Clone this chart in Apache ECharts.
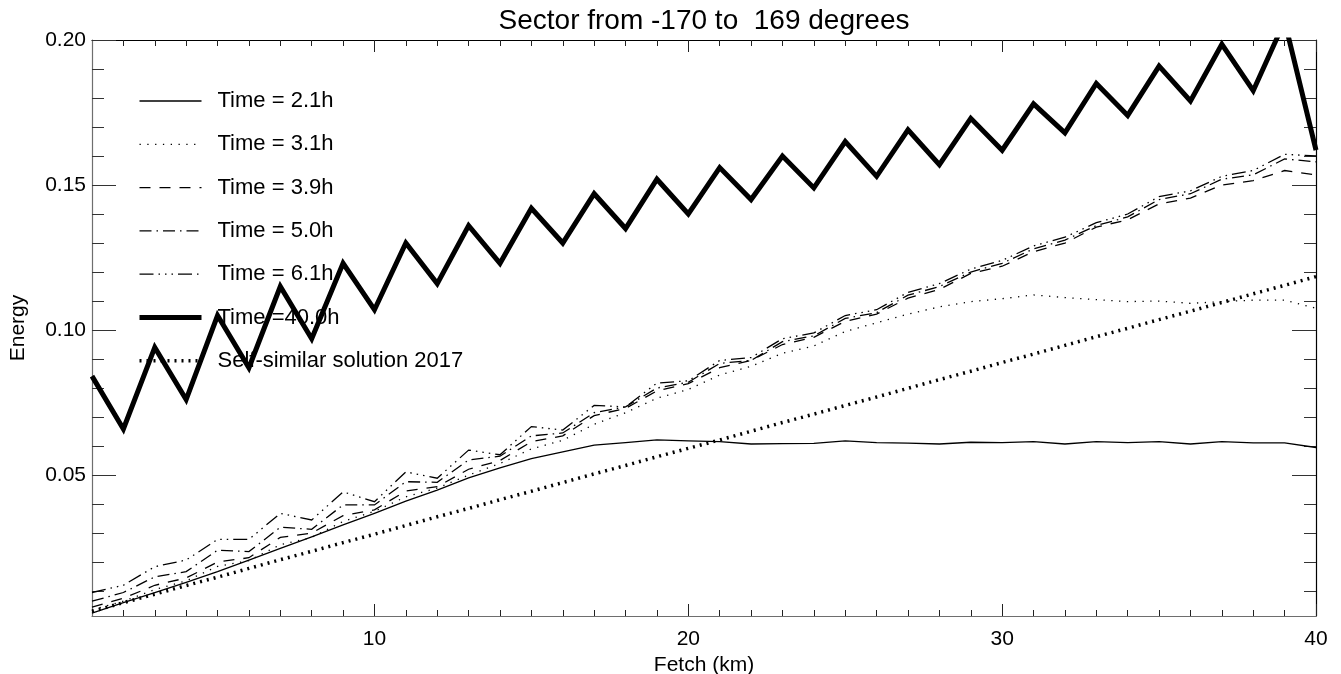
<!DOCTYPE html>
<html>
<head>
<meta charset="utf-8">
<script src="https://cdn.jsdelivr.net/npm/echarts@6/dist/echarts.min.js"></script>
<style>
html,body{margin:0;padding:0;background:#fff;}
#chart{width:1341px;height:674px;}
</style>
</head>
<body>
<div id="chart"></div>
<script>
// ---- data ----
const fetchKm = [1,2,3,4,5,6,7,8,9,10,11,12,13,14,15,16,17,18,19,20,21,22,23,24,25,26,27,28,29,30,31,32,33,34,35,36,37,38,39,40];

const time21 = [0.0024,0.0060,0.0095,0.0130,0.0167,0.0207,0.0247,0.0287,0.0328,0.0368,
                0.0410,0.0448,0.0490,0.0525,0.0557,0.0580,0.0603,0.0612,0.0621,0.0618,
                0.0615,0.0607,0.0608,0.0609,0.0618,0.0612,0.0610,0.0607,0.0613,0.0612,
                0.0615,0.0607,0.0615,0.0612,0.0615,0.0607,0.0615,0.0611,0.0611,0.0595];

const time31 = [0.0035,0.0065,0.0105,0.0135,0.0185,0.0205,0.0260,0.0285,0.0340,0.0375,
                0.0425,0.0455,0.0500,0.0540,0.0590,0.0620,0.0675,0.0715,0.0765,0.0795,
                0.0845,0.0875,0.0920,0.0945,0.0995,0.1025,0.1055,0.1080,0.1098,0.1108,
                0.1121,0.1112,0.1105,0.1098,0.1100,0.1092,0.1098,0.1103,0.1103,0.1075];

const time39 = [0.0045,0.0075,0.0120,0.0145,0.0200,0.0215,0.0285,0.0300,0.0360,0.0380,
                0.0445,0.0460,0.0520,0.0550,0.0615,0.0635,0.0705,0.0730,0.0790,0.0815,
                0.0870,0.0895,0.0950,0.0975,0.1030,0.1055,0.1110,0.1140,0.1195,0.1220,
                0.1270,0.1300,0.1355,0.1380,0.1435,0.1455,0.1500,0.1515,0.1550,0.1535];

const time50 = [0.0065,0.0095,0.0149,0.0167,0.0241,0.0236,0.0320,0.0313,0.0397,0.0397,
                0.0477,0.0475,0.0552,0.0565,0.0635,0.0645,0.0715,0.0735,0.0800,0.0820,
                0.0885,0.0895,0.0960,0.0980,0.1040,0.1060,0.1120,0.1150,0.1200,0.1230,
                0.1280,0.1310,0.1360,0.1390,0.1450,0.1470,0.1520,0.1535,0.1590,0.1580];

const time61 = [0.0095,0.0120,0.0184,0.0207,0.0278,0.0278,0.0368,0.0345,0.0442,0.0408,
                0.0511,0.0489,0.0586,0.0570,0.0667,0.0655,0.0740,0.0735,0.0817,0.0825,
                0.0895,0.0905,0.0970,0.0990,0.1050,0.1070,0.1130,0.1160,0.1210,0.1240,
                0.1290,0.1320,0.1370,0.1400,0.1460,0.1480,0.1530,0.1550,0.1606,0.1600];

const time400 = [0.0841,0.0659,0.0940,0.0760,0.1050,0.0870,0.1150,0.0970,0.1230,0.1070,
                 0.1300,0.1160,0.1360,0.1230,0.1420,0.1300,0.1470,0.1350,0.1520,0.1400,
                 0.1560,0.1450,0.1600,0.1490,0.1650,0.1530,0.1690,0.1570,0.1730,0.1620,
                 0.1780,0.1680,0.1850,0.1740,0.1910,0.1790,0.1985,0.1825,0.2065,0.1620];

const selfSimilar = [0.0030,0.0060,0.0089,0.0119,0.0148,0.0178,0.0208,0.0237,0.0267,0.0296,
                     0.0326,0.0356,0.0385,0.0415,0.0444,0.0474,0.0504,0.0533,0.0563,0.0592,
                     0.0621,0.0651,0.0681,0.0710,0.0740,0.0769,0.0799,0.0829,0.0858,0.0888,
                     0.0917,0.0947,0.0977,0.1006,0.1036,0.1065,0.1095,0.1125,0.1154,0.1184];

const seriesNames = ['Time = 2.1h','Time = 3.1h','Time = 3.9h','Time = 5.0h','Time = 6.1h','Time =40.0h','Self-similar solution 2017'];

const xMajorTicks = [10,20,30,40];
const xMinorTicks = [2,3,4,5,6,7,8,9,11,12,13,14,15,16,17,18,19,21,22,23,24,25,26,27,28,29,31,32,33,34,35,36,37,38,39];
const yMajorTicks = [0.05,0.10,0.15,0.20];
const yMinorTicks = [0.01,0.02,0.03,0.04,0.06,0.07,0.08,0.09,0.11,0.12,0.13,0.14,0.16,0.17,0.18,0.19];

const titleText = 'Sector from -170 to  169 degrees';
const xName = 'Fetch (km)';
const yName = 'Energy';

// ---- chart ----
const FONT = '"Liberation Sans", Arial, Helvetica, sans-serif';
const X_MIN = 1, X_MAX = 40, Y_MIN = 0.0014, Y_MAX = 0.20;

function pairs(vals){ return fetchKm.map((x,i)=>[x, vals[i]]); }

function xAx(pos, ticks, len, showLine, lineColor, label, name){
  return {
    type:'value', position:pos, min:X_MIN, max:X_MAX,
    splitLine:{show:false},
    axisLine:{show:showLine, onZero:false, lineStyle:{color:lineColor, width:1.2}},
    axisTick:{show:true, inside:true, length:len, customValues:ticks, lineStyle:{color:'#222', width:1}},
    axisLabel:{show:label, customValues:ticks, color:'#000', fontFamily:FONT, fontSize:21, margin:13,
               showMinLabel:true, showMaxLabel:true},
    name: name || '', nameLocation:'middle', nameGap:32,
    nameTextStyle:{color:'#000', fontFamily:FONT, fontSize:21}
  };
}
function yAx(pos, ticks, len, showLine, lineColor, label, name){
  return {
    type:'value', position:pos, min:Y_MIN, max:Y_MAX,
    splitLine:{show:false},
    axisLine:{show:showLine, onZero:false, lineStyle:{color:lineColor, width:1.2}},
    axisTick:{show:true, inside:true, length:len, customValues:ticks, lineStyle:{color:'#333', width:1}},
    axisLabel:{show:label, customValues:ticks, color:'#000', fontFamily:FONT, fontSize:21, margin:6,
               formatter:v=>v.toFixed(2), showMinLabel:true, showMaxLabel:true},
    name: name || '', nameLocation:'middle', nameGap:63, nameRotate:90,
    nameTextStyle:{color:'#000', fontFamily:FONT, fontSize:21}
  };
}

const lineStyles = [
  {width:1.3, type:'solid'},
  {width:1.3, type:[1.3,6.5]},
  {width:1.3, type:[11,9]},
  {width:1.3, type:[12,5,1.5,5]},
  {width:1.3, type:[14,5,1.5,5,1.5,5,1.5,5]},
  {width:5, type:'solid'},
  {width:3.5, type:[2,5]}
];
const datasets = [time21,time31,time39,time50,time61,time400,selfSimilar];

const chart = echarts.init(document.getElementById('chart'), null, {renderer:'canvas'});
chart.setOption({
  animation:false,
  backgroundColor:'#fff',
  title:{text:titleText, left:699, top:2, textAlign:'center',
         textStyle:{color:'#000', fontFamily:FONT, fontSize:28, fontWeight:'normal'}},
  grid:{left:92, right:25, top:40, bottom:58, containLabel:false, outerBoundsMode:'none'},
  legend:{
    orient:'vertical', left:137, top:90, padding:0, itemWidth:62, itemHeight:14, itemGap:21.3,
    data:seriesNames, selectedMode:false,
    itemStyle:{color:'rgba(0,0,0,0)', borderWidth:0, opacity:0},
    lineStyle:{width:'inherit', type:'inherit', color:'inherit'},
    textStyle:{color:'#000', fontFamily:FONT, fontSize:22, padding:[0,0,0,11]},
    inactiveColor:'#000'
  },
  xAxis:[
    xAx('bottom', xMajorTicks, 12, true, '#6e6e6e', true, xName),
    xAx('bottom', xMinorTicks, 6, false, '#6e6e6e', false),
    xAx('top', xMajorTicks, 12, true, '#000', false),
    xAx('top', xMinorTicks, 6, false, '#000', false)
  ],
  yAxis:[
    yAx('left', yMajorTicks, 24, true, '#6e6e6e', true, yName),
    yAx('left', yMinorTicks, 12, false, '#6e6e6e', false),
    yAx('right', yMajorTicks, 24, true, '#000', false),
    yAx('right', yMinorTicks, 12, false, '#000', false)
  ],
  series: datasets.map((d,i)=>({
    name:seriesNames[i], type:'line', data:pairs(d), xAxisIndex:0, yAxisIndex:0,
    showSymbol:false, symbol:'none', smooth:false, clip:true,
    lineStyle:Object.assign({color:'#000', cap:'butt', join:'miter'}, lineStyles[i]),
    itemStyle:{color:'#000'},
    emphasis:{disabled:true}
  }))
});
</script>
</body>
</html>
